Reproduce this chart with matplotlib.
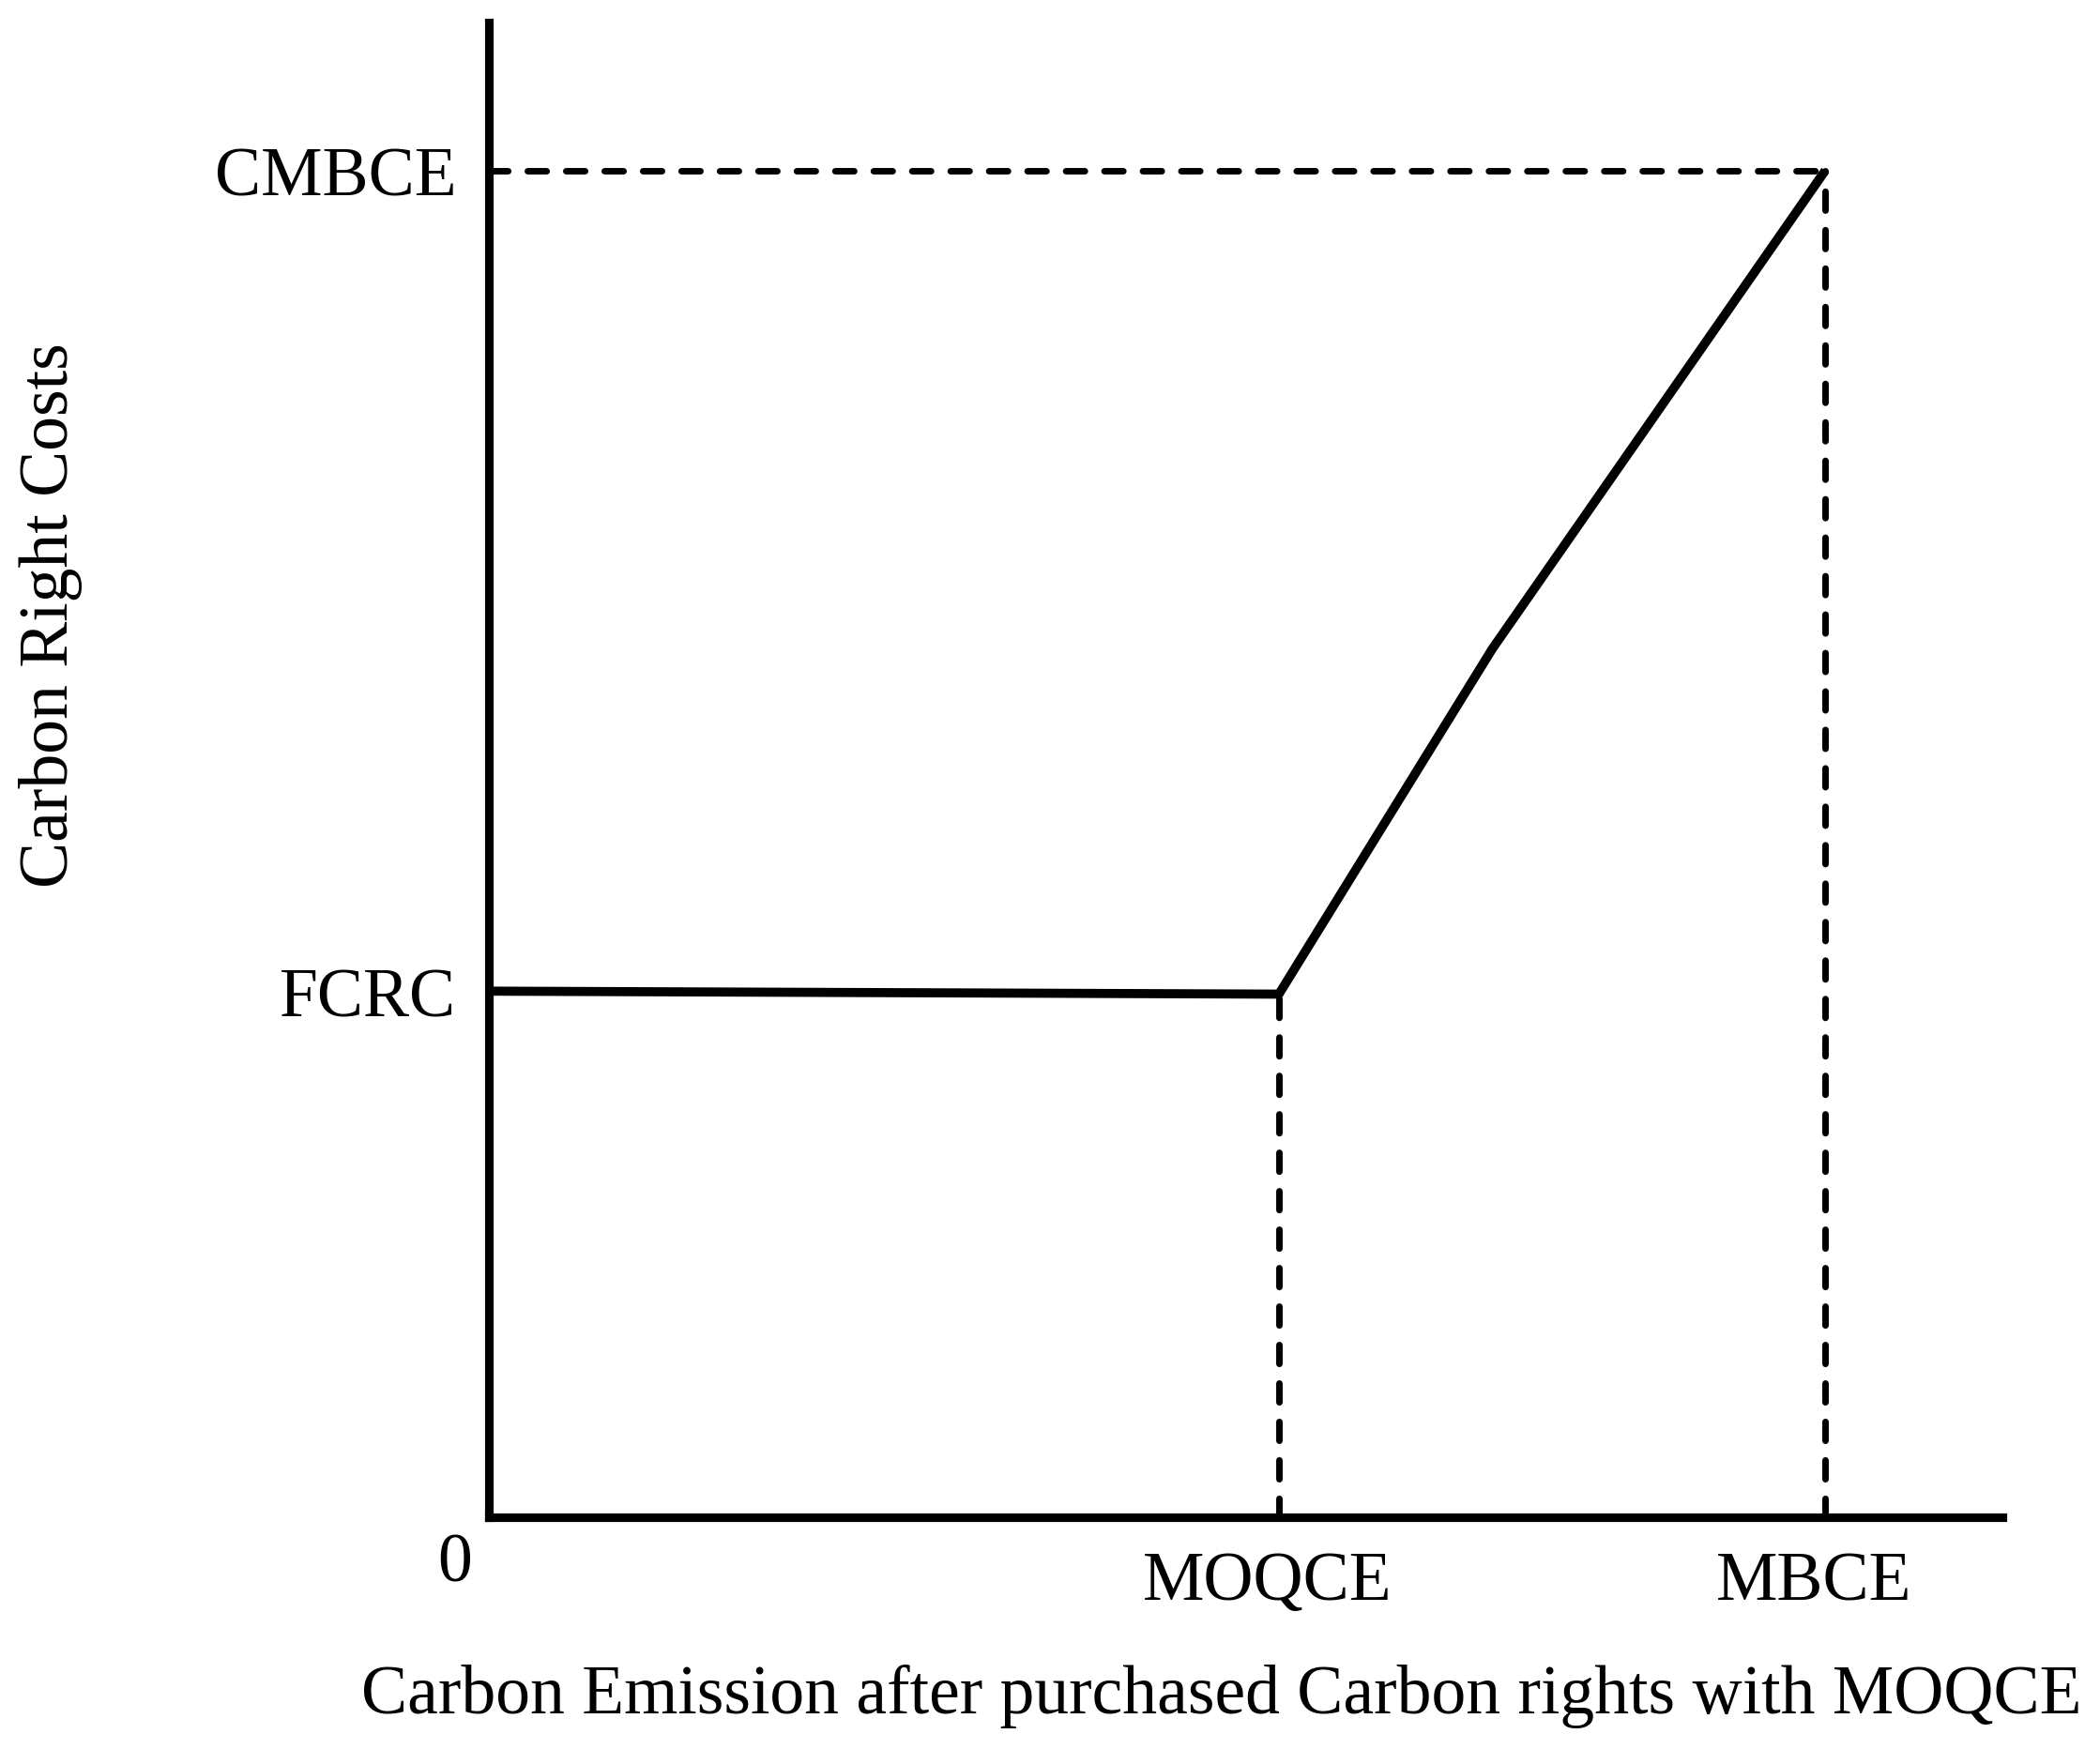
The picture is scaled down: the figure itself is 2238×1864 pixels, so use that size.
import matplotlib
matplotlib.use("Agg")
import matplotlib.pyplot as plt

# ===== データ（軸の値は抽象的な目盛） =====
curve_x = [0, 5.22, 6.63, 8.83]
curve_y = [3.52, 3.50, 5.81, 9.01]

x_tick_vals = [5.22, 8.83]
x_tick_labels = ["MOQCE", "MBCE"]
y_tick_vals = [3.52, 9.01]
y_tick_labels = ["FCRC", "CMBCE"]

moqce, mbce = x_tick_vals
fcrc_end = curve_y[1]
cmbce = y_tick_vals[1]

plt.rcParams["font.family"] = ["Liberation Serif", "DejaVu Serif"]
FS = 53

fig = plt.figure(figsize=(22.38, 18.65), dpi=100)
ax = fig.add_axes([0.2328, 0.1324, 0.7207, 0.8542])
ax.set_xlim(0, 10)
ax.set_ylim(0, 10)

for side in ["top", "right"]:
    ax.spines[side].set_visible(False)
for side in ["left", "bottom"]:
    ax.spines[side].set_linewidth(6.6)
    ax.spines[side].set_color("black")

# 折れ線
ax.plot(curve_x, curve_y, color="black", linewidth=7.0,
        solid_joinstyle="miter", solid_capstyle="butt", clip_on=False, zorder=3)

# 補助の破線
dash_kw = dict(color="black", linewidth=5.0, dashes=(2.9, 3.0),
               dash_capstyle="round", clip_on=False, zorder=2)
ax.plot([0, mbce], [cmbce, cmbce], **dash_kw)
ax.plot([moqce, moqce], [0, fcrc_end], **dash_kw)
ax.plot([mbce, mbce], [0, cmbce], **dash_kw)

# 目盛ラベル
ax.set_xticks(x_tick_vals, [""] * len(x_tick_vals))
ax.set_yticks(y_tick_vals, y_tick_labels)
ax.tick_params(axis="x", length=0)
ax.tick_params(axis="y", length=0, pad=25, labelsize=FS)
for xv, lab in zip(x_tick_vals, x_tick_labels):
    ax.annotate(lab, xy=(xv, 0), xytext=(-9, -50), textcoords="offset points",
                ha="center", va="center", fontsize=FS)

ax.annotate("0", xy=(0, 0), xytext=(-26, -36), textcoords="offset points",
            ha="center", va="center", fontsize=FS)

# 軸タイトル
fig.text(1302 / 2238, 1 - 1808 / 1865,
         "Carbon Emission after purchased Carbon rights with MOQCE",
         ha="center", va="center", fontsize=FS)
fig.text(54 / 2238, 1 - 656 / 1865, "Carbon Right Costs",
         ha="center", va="center", rotation=90, fontsize=FS)

fig.savefig("out.png", dpi=100, facecolor="white")
plt.close(fig)
